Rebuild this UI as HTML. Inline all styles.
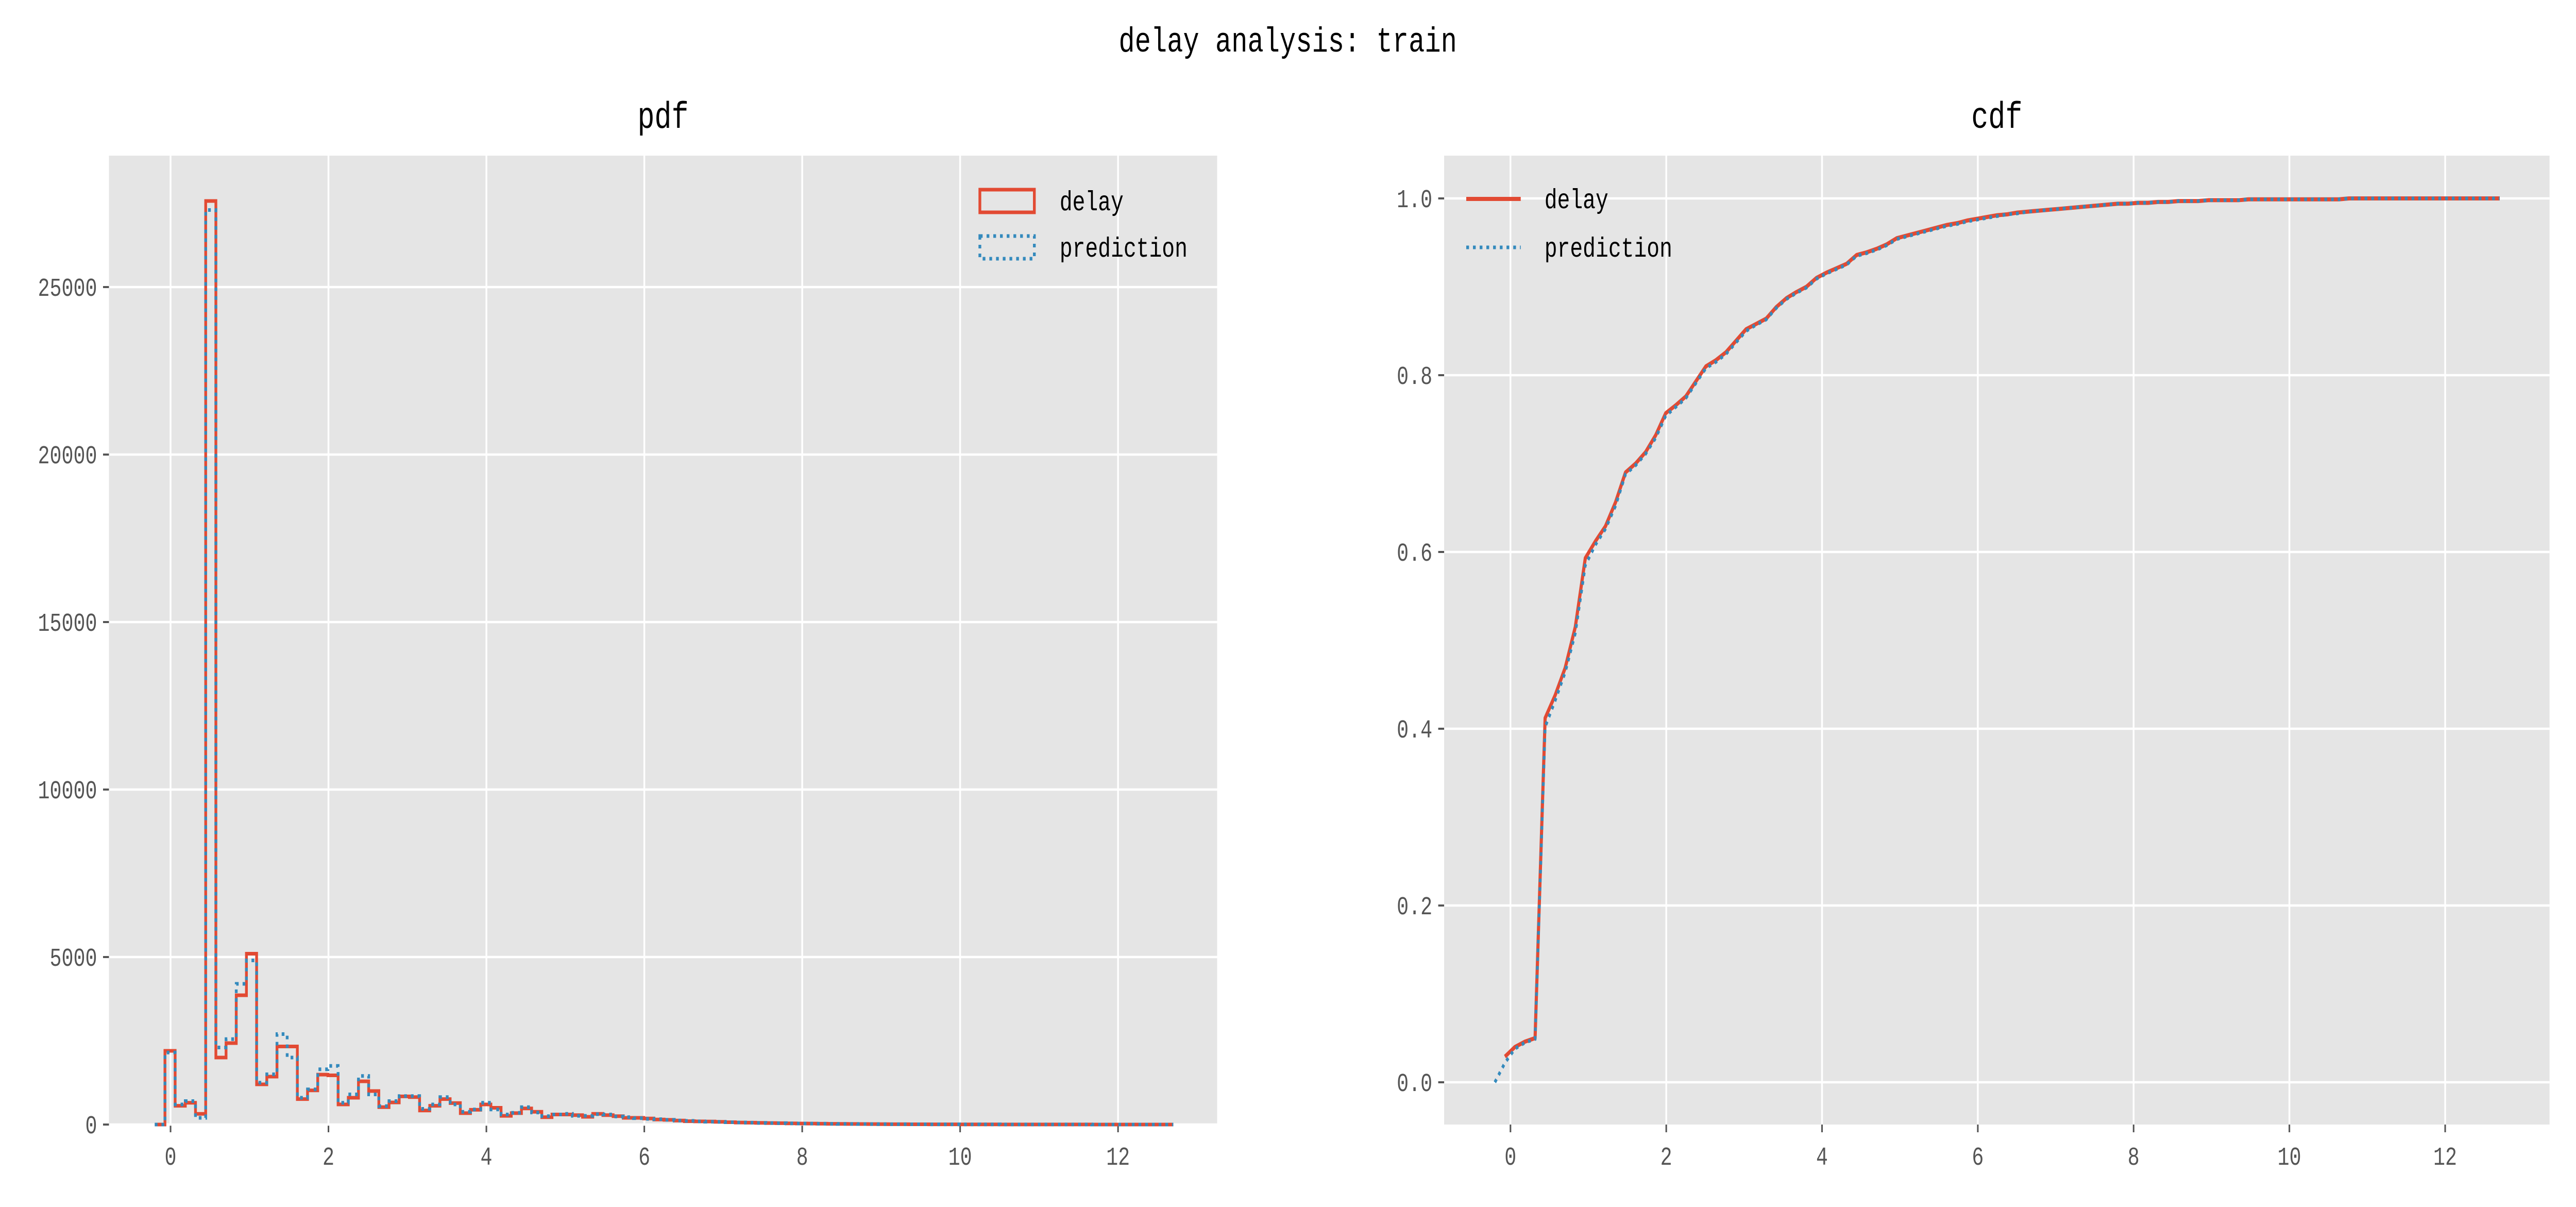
<!DOCTYPE html>
<html><head><meta charset="utf-8"><style>
html,body{margin:0;padding:0;background:#fff;width:100%;height:100%;overflow:hidden;}
svg{display:block;width:100vw;height:100vh;font-family:"Liberation Mono","Noto Sans CJK SC",monospace;}
</style></head><body>
<svg id="fig" viewBox="0 0 6525 2342" preserveAspectRatio="none" xmlns="http://www.w3.org/2000/svg">
<text x="3262" y="100" font-size="68" text-anchor="middle" fill="#000">delay analysis: train</text>
<g id="pdf"></g>
<g id="cdf"></g>
</svg>
<script>
const binStart = -0.2;
const binWidth = 0.129;
const delayCounts = [0,2200,560,650,320,27570,2000,2430,3860,5100,1200,1430,2330,2330,760,1020,1490,1470,600,800,1290,1000,520,660,840,820,420,560,760,640,340,440,600,500,260,340,480,380,220,300,300,280,230,320,280,250,200,200,180,150,140,120,100,95,90,80,70,60,55,50,45,40,35,30,28,25,22,20,18,15,13,12,10,9,8,7,6,5,5,4,4,3,3,2,2,2,1,1,1,1,1,1,0,0,0,0,0,0,0,0];
const predCounts = [0,2150,600,700,200,27300,2300,2550,4200,4900,1250,1500,2700,2000,800,1050,1650,1750,650,900,1450,900,550,700,850,850,470,600,820,600,380,450,650,450,300,350,520,360,250,300,320,260,260,310,300,240,220,190,170,160,140,120,110,95,85,80,70,62,55,48,45,40,35,30,28,25,22,20,18,15,13,12,10,9,8,7,6,5,5,4,4,3,3,2,2,2,1,1,1,1,1,1,0,0,0,0,0,0,0,0];
const delayCdf = [0.029,0.040,0.046,0.050,0.412,0.438,0.469,0.515,0.593,0.612,0.629,0.656,0.690,0.700,0.713,0.732,0.757,0.766,0.776,0.793,0.810,0.817,0.826,0.839,0.852,0.858,0.864,0.877,0.887,0.894,0.900,0.910,0.916,0.921,0.926,0.936,0.939,0.943,0.948,0.955,0.958,0.961,0.964,0.967,0.970,0.972,0.975,0.977,0.979,0.981,0.982,0.984,0.985,0.986,0.987,0.988,0.989,0.990,0.991,0.992,0.993,0.994,0.994,0.995,0.995,0.996,0.996,0.997,0.997,0.997,0.998,0.998,0.998,0.998,0.999,0.999,0.999,0.999,0.999,0.999,0.999,0.999,0.999,0.999,1,1,1,1,1,1,1,1,1,1,1,1,1,1,1,1];
const predCdf = [0,0.022,0.038,0.045,0.049,0.402,0.432,0.464,0.508,0.585,0.608,0.626,0.652,0.688,0.698,0.711,0.729,0.754,0.764,0.774,0.791,0.808,0.815,0.824,0.837,0.850,0.857,0.863,0.876,0.886,0.893,0.899,0.909,0.915,0.920,0.925,0.935,0.938,0.942,0.947,0.954,0.957,0.960,0.963,0.966,0.969,0.971,0.974,0.976,0.978,0.980,0.982,0.983,0.985,0.986,0.987,0.988,0.989,0.990,0.991,0.992,0.993,0.994,0.994,0.995,0.995,0.996,0.996,0.997,0.997,0.997,0.998,0.998,0.998,0.998,0.999,0.999,0.999,0.999,0.999,0.999,0.999,0.999,0.999,0.999,1,1,1,1,1,1,1,1,1,1,1,1,1,1,1,1];
const xTicks = [0,2,4,6,8,10,12];
const pdfYTicks = [0,5000,10000,15000,20000,25000];
const cdfYTicks = [0,0.2,0.4,0.6,0.8,1.0];
const cdfYLabels = ["0.0","0.2","0.4","0.6","0.8","1.0"];

const NS = "http://www.w3.org/2000/svg";
function mk(parent, tag, attrs, text){
  const e = document.createElementNS(NS, tag);
  for (const k in attrs) e.setAttribute(k, attrs[k]);
  if (text !== undefined) e.textContent = text;
  parent.appendChild(e);
  return e;
}
const RED = "#E24A33", BLUE = "#348ABD";

function drawAxes(g, box, xs, ys, yTicks, yLabels, title){
  const bg = mk(g, "rect", {x:box.l, y:box.t, width:box.r-box.l, height:box.b-box.t, fill:"#E5E5E5"});
  
  
  xTicks.forEach(v => {
    const x = xs(v);
    const gl = mk(g, "line", {x1:x, x2:x, y1:box.t, y2:box.b, stroke:"#fff", "stroke-width":4.5});
    
    
    mk(g, "line", {x1:x, x2:x, y1:box.b, y2:box.b+15, stroke:"#555", "stroke-width":4});
    const t = mk(g, "text", {x:x, y:box.b+78, "font-size":50, fill:"#555", "text-anchor":"middle"}, String(v));
    
    
  });
  yTicks.forEach((v,i) => {
    const y = ys(v);
    const gl = mk(g, "line", {x1:box.l, x2:box.r, y1:y, y2:y, stroke:"#fff", "stroke-width":4.5});
    
    
    mk(g, "line", {x1:box.l-15, x2:box.l, y1:y, y2:y, stroke:"#555", "stroke-width":4});
    const t = mk(g, "text", {x:box.l-30, y:y+17, "font-size":50, fill:"#555", "text-anchor":"end"}, yLabels[i]);
    
    
  });
  const tt = mk(g, "text", {x:(box.l+box.r)/2, y:248, "font-size":72, fill:"#000", "text-anchor":"middle"}, title);
  
  
}

// PDF
(function(){
  const g = document.getElementById("pdf");
  const box = {l:276, r:3083, t:302, b:2182};
  const xs = v => 432 + v*200;
  const ys = v => 2182 - v*0.065;
  drawAxes(g, box, xs, ys, pdfYTicks, pdfYTicks.map(String), "pdf");
  function stepPath(arr){
    let d = "M"+xs(binStart)+","+ys(0);
    arr.forEach((h,i)=>{
      const x0 = xs(binStart+i*binWidth), x1 = xs(binStart+(i+1)*binWidth);
      d += " L"+x0+","+ys(h)+" L"+x1+","+ys(h);
    });
    d += " L"+xs(binStart+arr.length*binWidth)+","+ys(0);
    return d;
  }
  const p1 = mk(g, "path", {d:stepPath(delayCounts), fill:"none", stroke:RED, "stroke-width":7, "stroke-linejoin":"miter"});
  
  
  const p2 = mk(g, "path", {d:stepPath(predCounts), fill:"none", stroke:BLUE, "stroke-width":7, "stroke-dasharray":"7,10"});
  
  
  const lg = mk(g, "g", {});
  
  
  mk(lg, "rect", {x:2482, y:368, width:138, height:44, fill:"none", stroke:RED, "stroke-width":7});
  const t1 = mk(lg, "text", {x:2684, y:408, "font-size":54, fill:"#000"}, "delay");
  
  
  mk(lg, "rect", {x:2482, y:458, width:138, height:44, fill:"none", stroke:BLUE, "stroke-width":7, "stroke-dasharray":"7,10"});
  const t2 = mk(lg, "text", {x:2684, y:498, "font-size":54, fill:"#000"}, "prediction");
  
  
})();

// CDF
(function(){
  const g = document.getElementById("cdf");
  const box = {l:3658, r:6458, t:302, b:2182};
  const xs = v => 3826 + v*197.3;
  const ys = v => 2100 - v*1715;
  drawAxes(g, box, xs, ys, cdfYTicks, cdfYLabels, "cdf");
  function linePath(arr, k0){
    return arr.map((v,i)=>(i?"L":"M")+xs(binStart+(i+k0)*binWidth)+","+ys(v)).join(" ");
  }
  const l1 = mk(g, "path", {d:linePath(delayCdf,1), fill:"none", stroke:RED, "stroke-width":8, "stroke-linejoin":"round"});
  
  
  const l2 = mk(g, "path", {d:linePath(predCdf,0), fill:"none", stroke:BLUE, "stroke-width":7, "stroke-dasharray":"7,10"});
  
  
  const lg = mk(g, "g", {});
  
  
  mk(lg, "line", {x1:3714, x2:3852, y1:386, y2:386, stroke:RED, "stroke-width":8});
  const t1 = mk(lg, "text", {x:3912, y:404, "font-size":54, fill:"#000"}, "delay");
  
  
  mk(lg, "line", {x1:3714, x2:3852, y1:480, y2:480, stroke:BLUE, "stroke-width":7, "stroke-dasharray":"7,10"});
  const t2 = mk(lg, "text", {x:3912, y:498, "font-size":54, fill:"#000"}, "prediction");
  
  
})();
</script>
</body></html>
